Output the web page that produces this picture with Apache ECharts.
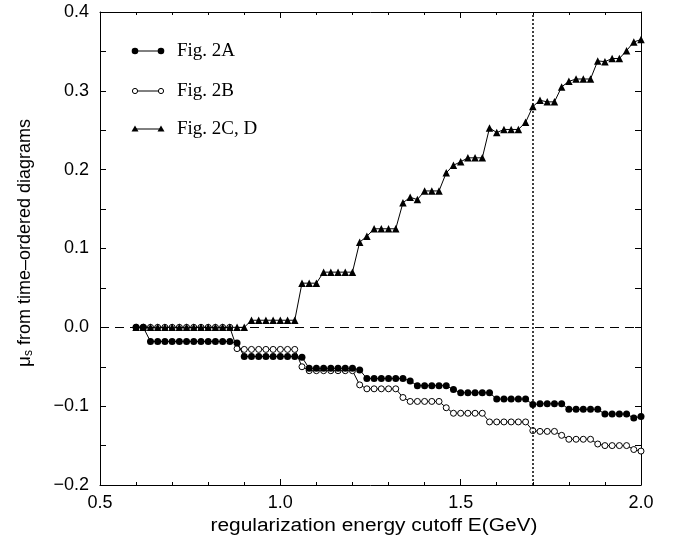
<!DOCTYPE html>
<html>
<head>
<meta charset="utf-8">
<script src="https://cdn.jsdelivr.net/npm/echarts@6/dist/echarts.min.js"></script>
<style>
html,body{margin:0;padding:0;background:#fff;}
#chart{width:681px;height:543px;}
</style>
</head>
<body>
<div id="chart"></div>
<script>
var energy = [0.60,0.62,0.64,0.66,0.68,0.70,0.72,0.74,0.76,0.78,0.80,0.82,0.84,0.86,0.88,0.90,0.92,0.94,0.96,0.98,
1.00,1.02,1.04,1.06,1.08,1.10,1.12,1.14,1.16,1.18,1.20,1.22,1.24,1.26,1.28,1.30,1.32,1.34,1.36,1.38,
1.40,1.42,1.44,1.46,1.48,1.50,1.52,1.54,1.56,1.58,1.60,1.62,1.64,1.66,1.68,1.70,1.72,1.74,1.76,1.78,
1.80,1.82,1.84,1.86,1.88,1.90,1.92,1.94,1.96,1.98,2.00];

var fig2A = [0,0,-0.018,-0.018,-0.018,-0.018,-0.018,-0.018,-0.018,-0.018,-0.018,-0.018,-0.018,-0.018,-0.02,
-0.037,-0.037,-0.037,-0.037,-0.037,-0.037,-0.037,-0.037,-0.038,
-0.052,-0.052,-0.052,-0.052,-0.052,-0.052,-0.052,-0.054,
-0.065,-0.065,-0.065,-0.065,-0.065,-0.065,-0.068,
-0.074,-0.074,-0.074,-0.074,-0.074,-0.079,
-0.083,-0.083,-0.083,-0.083,-0.083,
-0.091,-0.091,-0.091,-0.091,-0.091,-0.098,
-0.097,-0.097,-0.097,-0.097,
-0.104,-0.104,-0.104,-0.104,-0.104,
-0.11,-0.11,-0.11,-0.11,-0.115,-0.113];

var fig2B = [0,0,0,0,0,0,0,0,0,0,0,0,0,0,-0.027,
-0.028,-0.028,-0.028,-0.028,-0.028,-0.028,-0.028,-0.028,-0.05,
-0.055,-0.055,-0.055,-0.055,-0.055,-0.055,-0.055,-0.073,
-0.078,-0.078,-0.078,-0.078,-0.078,-0.089,
-0.094,-0.094,-0.094,-0.094,-0.094,-0.102,
-0.109,-0.109,-0.109,-0.109,-0.109,
-0.12,-0.12,-0.12,-0.12,-0.12,-0.12,-0.131,
-0.132,-0.132,-0.132,-0.137,
-0.142,-0.142,-0.142,-0.142,-0.148,
-0.15,-0.15,-0.15,-0.15,-0.155,-0.157];

var fig2CD = [0,0,0,0,0,0,0,0,0,0,0,0,0,0,0,0,
0.009,0.009,0.009,0.009,0.009,0.009,0.009,
0.056,0.056,0.056,
0.07,0.07,0.07,0.07,0.07,
0.108,0.1155,0.125,0.125,0.125,0.125,
0.158,0.165,0.162,0.173,0.173,0.173,
0.196,0.2056,0.21,0.215,0.215,0.215,
0.253,0.247,0.251,0.251,0.251,0.26,
0.28,0.288,0.286,0.286,
0.305,0.312,0.315,0.315,0.315,
0.338,0.337,0.341,0.341,0.351,0.362,0.365];

var xTicks = [0.5,1.0,1.5,2.0];
var yTicks = [-0.2,-0.1,0.0,0.1,0.2,0.3,0.4];
var seriesNames = ['Fig. 2A','Fig. 2B','Fig. 2C, D'];
var xTitle = 'regularization energy cutoff E(GeV)';
var yTitle = '{mu|μ}{sub|s} from time–ordered diagrams';
var cutoffLine = 1.7;

function pairs(vals){ return energy.map(function(x,i){ return [x, vals[i]]; }); }
function fmt(v){ return (v < -1e-9 ? '\u2212' : '') + Math.abs(v).toFixed(1); }

var chart = echarts.init(document.getElementById('chart'), null, {renderer:'canvas'});
var sansFont = '"Liberation Sans", Arial, Helvetica, sans-serif';
var serifFont = '"Liberation Serif", "Times New Roman", serif';
var axisCommon = {
  axisLine:{show:true, onZero:false, lineStyle:{color:'#000', width:1}},
  splitLine:{show:false}
};

var option = {
  backgroundColor:'#fff',
  animation:false,
  grid:{left:100, top:12, right:40, bottom:58},
  xAxis:[
    Object.assign({
      type:'value', min:xTicks[0], max:xTicks[xTicks.length-1], interval:0.5, position:'bottom',
      axisTick:{show:true, inside:true, length:6, lineStyle:{color:'#000'}},
      minorTick:{show:true, splitNumber:5, length:3, lineStyle:{color:'#000'}},
      axisLabel:{show:true, color:'#000', fontSize:18, fontFamily:sansFont, margin:9, formatter:fmt}
    }, axisCommon),
    Object.assign({
      type:'value', min:xTicks[0], max:xTicks[xTicks.length-1], interval:0.5, position:'top',
      axisTick:{show:true, inside:true, length:6, lineStyle:{color:'#000'}},
      minorTick:{show:true, splitNumber:5, length:3, lineStyle:{color:'#000'}},
      axisLabel:{show:false}
    }, axisCommon)
  ],
  yAxis:[
    Object.assign({
      type:'value', min:yTicks[0], max:yTicks[yTicks.length-1], interval:0.1, position:'left',
      axisTick:{show:true, inside:true, length:6, lineStyle:{color:'#000'}},
      minorTick:{show:true, splitNumber:2, length:6, lineStyle:{color:'#000'}},
      axisLabel:{show:true, color:'#000', fontSize:18, fontFamily:sansFont, margin:11, formatter:fmt}
    }, axisCommon),
    Object.assign({
      type:'value', min:yTicks[0], max:yTicks[yTicks.length-1], interval:0.1, position:'right',
      axisTick:{show:true, inside:true, length:6, lineStyle:{color:'#000'}},
      minorTick:{show:true, splitNumber:2, length:6, lineStyle:{color:'#000'}},
      axisLabel:{show:false}
    }, axisCommon)
  ],
  graphic:[
    {type:'text', x:374, y:526, scaleX:1.16,
      style:{text:xTitle, align:'center', verticalAlign:'middle', fill:'#000', fontSize:18, fontFamily:sansFont}},
    {type:'text', x:25, y:243, rotation:Math.PI/2,
      style:{text:yTitle, align:'center', verticalAlign:'middle',
        fill:'#000', fontSize:18, fontFamily:sansFont,
        rich:{mu:{fontSize:19, fontFamily:sansFont, fill:'#000'},
              sub:{fontSize:12, fontFamily:sansFont, fill:'#000', padding:[8,0,0,0]}}}},
    // legend
    {type:'line', shape:{x1:135,y1:51,x2:161,y2:51}, style:{stroke:'#000', lineWidth:1}},
    {type:'circle', shape:{cx:135,cy:51,r:3.3}, style:{fill:'#000'}},
    {type:'circle', shape:{cx:161,cy:51,r:3.3}, style:{fill:'#000'}},
    {type:'text', x:177, y:51, style:{text:seriesNames[0], fontSize:19, fontFamily:serifFont, fill:'#000', verticalAlign:'middle'}},
    {type:'line', shape:{x1:135,y1:91,x2:161,y2:91}, style:{stroke:'#000', lineWidth:1}},
    {type:'circle', shape:{cx:135,cy:91,r:2.6}, style:{fill:'#fff', stroke:'#000', lineWidth:1}},
    {type:'circle', shape:{cx:161,cy:91,r:2.6}, style:{fill:'#fff', stroke:'#000', lineWidth:1}},
    {type:'text', x:177, y:91, style:{text:seriesNames[1], fontSize:19, fontFamily:serifFont, fill:'#000', verticalAlign:'middle'}},
    {type:'line', shape:{x1:135,y1:129,x2:161,y2:129}, style:{stroke:'#000', lineWidth:1}},
    {type:'polygon', shape:{points:[[135,125.5],[131.5,131.5],[138.5,131.5]]}, style:{fill:'#000'}},
    {type:'polygon', shape:{points:[[161,125.5],[157.5,131.5],[164.5,131.5]]}, style:{fill:'#000'}},
    {type:'text', x:177, y:129, style:{text:seriesNames[2], fontSize:19, fontFamily:serifFont, fill:'#000', verticalAlign:'middle'}}
  ],
  series:[
    {
      name:'zero', type:'line', data:[], silent:true,
      markLine:{silent:true, symbol:'none', label:{show:false}, animation:false,
        data:[
          [{coord:[xTicks[0],0]},{coord:[xTicks[xTicks.length-1],0]}]
        ],
        lineStyle:{color:'#000', width:1, type:[9,6]}}
    },
    {
      name:'cutoff', type:'line', data:[], silent:true,
      markLine:{silent:true, symbol:'none', label:{show:false}, animation:false,
        data:[[{coord:[cutoffLine,yTicks[0]]},{coord:[cutoffLine,yTicks[yTicks.length-1]]}]],
        lineStyle:{color:'#000', width:1.5, type:[2,2]}}
    },
    {
      name:seriesNames[1], type:'line', data:pairs(fig2B), symbol:'circle', symbolSize:6,
      lineStyle:{color:'#000', width:1}, itemStyle:{color:'#fff', borderColor:'#000', borderWidth:1}, z:3
    },
    {
      name:seriesNames[2], type:'line', data:pairs(fig2CD), symbol:'triangle', symbolSize:7.5,
      lineStyle:{color:'#000', width:1}, itemStyle:{color:'#000'}, z:4
    },
    {
      name:seriesNames[0], type:'line', data:pairs(fig2A), symbol:'circle', symbolSize:7,
      lineStyle:{color:'#000', width:1}, itemStyle:{color:'#000'}, z:5
    }
  ]
};
chart.setOption(option);
</script>
</body>
</html>
